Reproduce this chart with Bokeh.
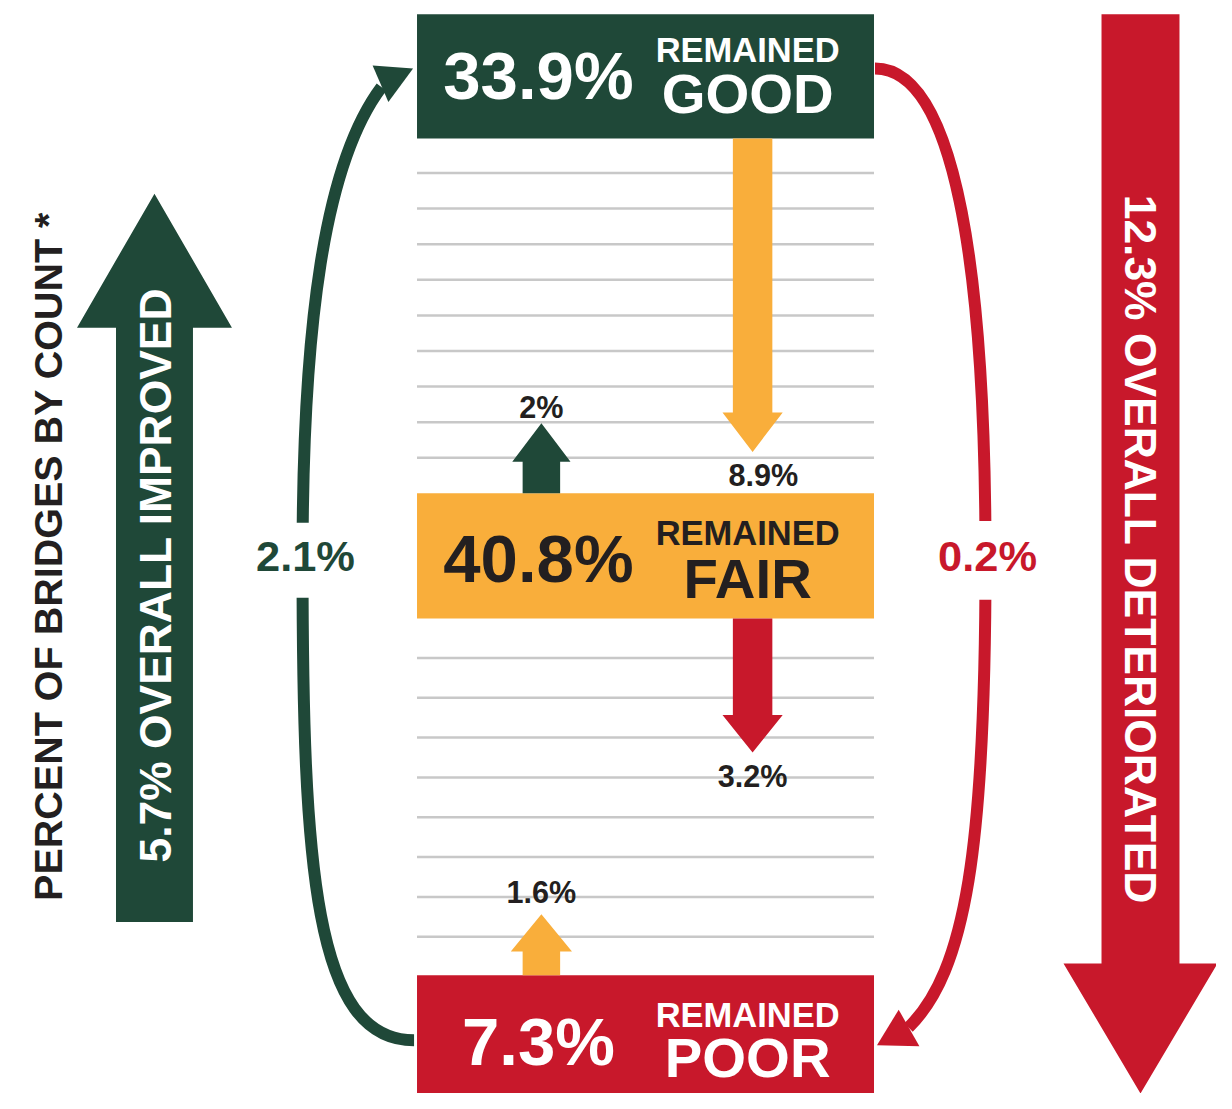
import numpy as np
from bokeh.plotting import figure
from bokeh.models import Range1d
from bokeh.core.properties import value
from bokeh.embed import file_html
from bokeh.resources import INLINE

# ---------------- data ----------------
categories = ["GOOD", "FAIR", "POOR"]
remained_pct = [33.9, 40.8, 7.3]

flow_from = ["GOOD", "FAIR", "FAIR", "POOR", "POOR", "GOOD"]
flow_to = ["FAIR", "GOOD", "POOR", "FAIR", "GOOD", "POOR"]
flow_pct = [8.9, 2.0, 3.2, 1.6, 2.1, 0.2]

overall_labels = ["OVERALL IMPROVED", "OVERALL DETERIORATED"]
overall_pct = [5.7, 12.3]
axis_title = "PERCENT OF BRIDGES BY COUNT *"


def pct(v):
    return f"{v:g}%"


# ---------------- style / layout ----------------
GREEN = "#1F4838"
YELLOW = "#F9AE3B"
RED = "#C8182B"
DARK = "#231F20"
GRID = "#C8C8C8"
FONT = "Liberation Sans"

REF_W, REF_H = 1232, 1109          # drawing space
W, H = 1216, 1093                  # figure size in pixels
S = W / REF_W


def fs(px):
    return f"{px * S:.1f}px"


cat_color = {"GOOD": GREEN, "FAIR": YELLOW, "POOR": RED}
cat_text = {"GOOD": "white", "FAIR": DARK, "POOR": "white"}
BOX_X0, BOX_X1 = 422, 885
box_top = {"GOOD": 14, "FAIR": 500, "POOR": 989}
box_bot = {"GOOD": 140, "FAIR": 627, "POOR": 1125}
# vertical centres of the three text rows inside each box
pct_yc = {"GOOD": 76, "FAIR": 566, "POOR": 1056}
rem_yc = {"GOOD": 50, "FAIR": 540, "POOR": 1029}
cat_yc = {"GOOD": 94, "FAIR": 586, "POOR": 1072}

p = figure(width=W, height=H, x_range=Range1d(0, REF_W), y_range=Range1d(REF_H, 0),
           output_backend="svg", toolbar_location=None, min_border=0,
           x_axis_type=None, y_axis_type=None)
p.grid.visible = False
p.outline_line_color = None
p.background_fill_color = "white"
p.border_fill_color = "white"


def vblock(xc, y0, y_tip, shaft_w, head_w, head_len):
    d = np.sign(y_tip - y0)
    yb = y_tip - d * head_len
    xs = [xc - shaft_w / 2, xc + shaft_w / 2, xc + shaft_w / 2, xc + head_w / 2, xc,
          xc - head_w / 2, xc - shaft_w / 2]
    ys = [y0, y0, yb, yb, y_tip, yb, yb]
    return xs, ys


def label(x, y, txt, size, color, angle=0.0):
    p.text(x=[x], y=[y], text=[txt], angle=angle, text_font=value(FONT), text_font_style="bold",
           text_font_size=fs(size), text_align="center", text_baseline="middle",
           text_color=color)


# grid lines between boxes
upper = np.linspace(175, 464, 9)
lower = np.linspace(667, 950, 8)
gl = np.concatenate([upper, lower])
p.segment(x0=[BOX_X0] * len(gl), x1=[BOX_X1] * len(gl), y0=gl, y1=gl,
          line_color=GRID, line_width=2.5)

# boxes and their labels
for cat, v in zip(categories, remained_pct):
    p.quad(left=BOX_X0, right=BOX_X1, top=box_top[cat], bottom=box_bot[cat],
           fill_color=cat_color[cat], line_color=None)
    label(545, pct_yc[cat], pct(v), 68, cat_text[cat])
    label(757, rem_yc[cat], "REMAINED", 35, cat_text[cat])
    label(757, cat_yc[cat], cat, 57, cat_text[cat])

# straight flow arrows between neighbouring boxes
straight = {
    ("GOOD", "FAIR"): dict(xc=762, y0=140, tip=458, sw=40, hw=61, hl=40, color=YELLOW, lx=773, ly=481),
    ("FAIR", "GOOD"): dict(xc=548, y0=500, tip=429, sw=38, hw=59, hl=39, color=GREEN, lx=548, ly=412),
    ("FAIR", "POOR"): dict(xc=762, y0=627, tip=763, sw=40, hw=61, hl=38, color=RED, lx=762, ly=787),
    ("POOR", "FAIR"): dict(xc=548, y0=989, tip=927, sw=38, hw=62, hl=38, color=YELLOW, lx=548, ly=905),
}
for f, t_, v in zip(flow_from, flow_to, flow_pct):
    g = straight.get((f, t_))
    if g is None:
        continue
    xs, ys = vblock(g["xc"], g["y0"], g["tip"], g["sw"], g["hw"], g["hl"])
    p.patch(xs, ys, fill_color=g["color"], line_color=None)
    label(g["lx"], g["ly"], pct(v), 31, DARK)

# curved flow arrows skipping FAIR
curved = {
    ("POOR", "GOOD"): dict(color=GREEN,
                           segs=[((419, 1055), (318, 1055), (306, 880), (306, 567)),
                                 ((306, 567), (306, 330), (328, 165), (386, 88))],
                           head=([377, 418, 393], [66, 69, 103]), lx=309, ly=564,
                           gap=(258, 360, 530, 606)),
    ("GOOD", "POOR"): dict(color=RED,
                           segs=[((886, 69), (965, 69), (998, 260), (998, 567)),
                                 ((998, 567), (998, 860), (978, 985), (920, 1042))],
                           head=([888, 910, 931], [1060, 1024, 1061]), lx=1000, ly=564,
                           gap=(948, 1052, 528, 608)),
}
for f, t_, v in zip(flow_from, flow_to, flow_pct):
    g = curved.get((f, t_))
    if g is None:
        continue
    for (a, c0, c1, b) in g["segs"]:
        p.bezier(x0=[a[0]], y0=[a[1]], x1=[b[0]], y1=[b[1]], cx0=[c0[0]], cy0=[c0[1]],
                 cx1=[c1[0]], cy1=[c1[1]], line_color=g["color"], line_width=12)
    hx, hy = g["head"]
    p.patch(hx, hy, fill_color=g["color"], line_color=None)
    l, r, tp, bt = g["gap"]
    p.quad(left=l, right=r, top=tp, bottom=bt, fill_color="white", line_color=None)
    label(g["lx"], g["ly"], pct(v), 44, g["color"])

# big overall arrows
xs, ys = vblock(156, 935, 196, 78, 157, 136)
p.patch(xs, ys, fill_color=GREEN, line_color=None)
label(157, 583, f"{pct(overall_pct[0])} {overall_labels[0]}", 45, "white", angle=np.pi / 2)

xs, ys = vblock(1155, 14, 1109, 79, 156, 132)
p.patch(xs, ys, fill_color=RED, line_color=None)
label(1155, 557, f"{pct(overall_pct[1])} {overall_labels[1]}", 45, "white", angle=-np.pi / 2)

# side title
label(48, 564, axis_title, 40, DARK, angle=np.pi / 2)

open("out.html", "w").write(file_html(p, INLINE))
